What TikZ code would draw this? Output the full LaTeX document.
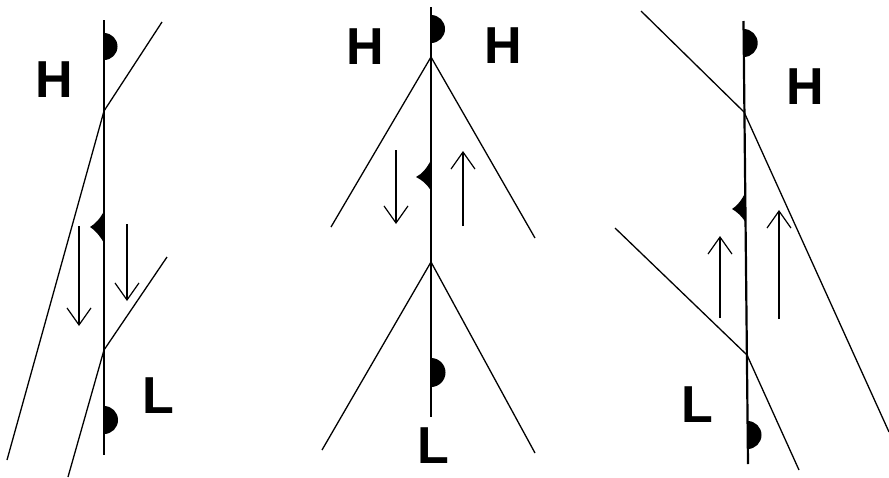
\documentclass[tikz,border=0pt]{standalone}
\usepackage{fontspec}
\setmainfont{Liberation Sans}
\usetikzlibrary{arrows.meta}
\begin{document}
\begin{tikzpicture}[x=1pt,y=-1pt,
  front/.style={line width=2.2pt},
  thin/.style={line width=1.3pt},
  flow/.style={line width=1.2pt,-{Straight Barb[length=17pt,width=24pt]}},
  warm/.style={fill=black},
  lab/.style={font=\fontsize{52}{52}\selectfont\bfseries,inner sep=0pt}]
\useasboundingbox (0,0) rectangle (889,477);
% ---------- panel 1 ----------
\coordinate (a1t) at (104,20); \coordinate (a1b) at (104,455);
\coordinate (a1x) at (104,111); \coordinate (a1y) at (104,350);
\coordinate (a1u) at (162,22); \coordinate (a1l) at (7,460);
\coordinate (a1v) at (167,257); \coordinate (a1w) at (68,477);
\draw[front] (a1t) -- (a1b);
\draw[thin] (a1u) -- (a1x) -- (a1l);
\draw[thin] (a1v) -- (a1y) -- (a1w);
\fill[warm] (104,33) arc[start angle=-90,end angle=90,radius=13.5] -- cycle;
\fill[warm] (104,406) arc[start angle=-90,end angle=90,radius=14] -- cycle;
\fill (104,211) .. controls (100,219) and (95,224) .. (90,227) .. controls (95,230) and (100,236) .. (104,243) -- cycle;
\coordinate (f1a) at (79,226); \coordinate (f1b) at (79,326);
\coordinate (f1c) at (127,224); \coordinate (f1d) at (127,301);
\draw[flow] (f1a) -- (f1b);
\draw[flow] (f1c) -- (f1d);
\node[lab] (h1) at (54,80) {H};
\node[lab] (l1) at (158,396) {L};
% ---------- panel 2 ----------
\coordinate (b2t) at (431,7); \coordinate (b2b) at (431,417);
\coordinate (b2x) at (431,57); \coordinate (b2y) at (431,262);
\draw[front] (b2t) -- (b2b);
\draw[thin] (331,227) -- (b2x) -- (535,238);
\draw[thin] (322,450) -- (b2y) -- (535,453);
\fill[warm] (431,15) arc[start angle=-90,end angle=90,radius=14] -- cycle;
\fill[warm] (431,358) arc[start angle=-90,end angle=90,radius=14.5] -- cycle;
\fill (431,160) .. controls (427,168) and (422,174) .. (416,177) .. controls (422,180) and (427,184) .. (431,191) -- cycle;
\coordinate (f2a) at (396,150); \coordinate (f2b) at (396,224);
\coordinate (f2c) at (463,226); \coordinate (f2d) at (463,151);
\draw[flow] (f2a) -- (f2b);
\draw[flow] (f2c) -- (f2d);
\node[lab] (h2) at (365,47) {H};
\node[lab] (h3) at (503,46) {H};
\node[lab] (l2) at (433,446) {L};
% ---------- panel 3 ----------
\coordinate (c3t) at (743.5,21); \coordinate (c3b) at (748,464);
\coordinate (c3x) at (744,112); \coordinate (c3y) at (747,355);
\draw[front] (c3t) -- (c3b);
\draw[thin] (641,11) -- (c3x) -- (889,432);
\draw[thin] (615,228) -- (c3y) -- (799,470);
\fill[warm] (743.7,29) arc[start angle=-90,end angle=90,radius=14] -- cycle;
\fill[warm] (747.5,421) arc[start angle=-90,end angle=90,radius=14] -- cycle;
\fill (745.5,192) .. controls (742,200) and (737,206) .. (732,209) .. controls (737,212) and (742,216) .. (745.8,223) -- cycle;
\coordinate (f3a) at (720,318); \coordinate (f3b) at (720,236);
\coordinate (f3c) at (779,319); \coordinate (f3d) at (779,210);
\draw[flow] (f3a) -- (f3b);
\draw[flow] (f3c) -- (f3d);
\node[lab] (h4) at (805,87) {H};
\node[lab] (l3) at (697,405) {L};
\end{tikzpicture}
\end{document}
